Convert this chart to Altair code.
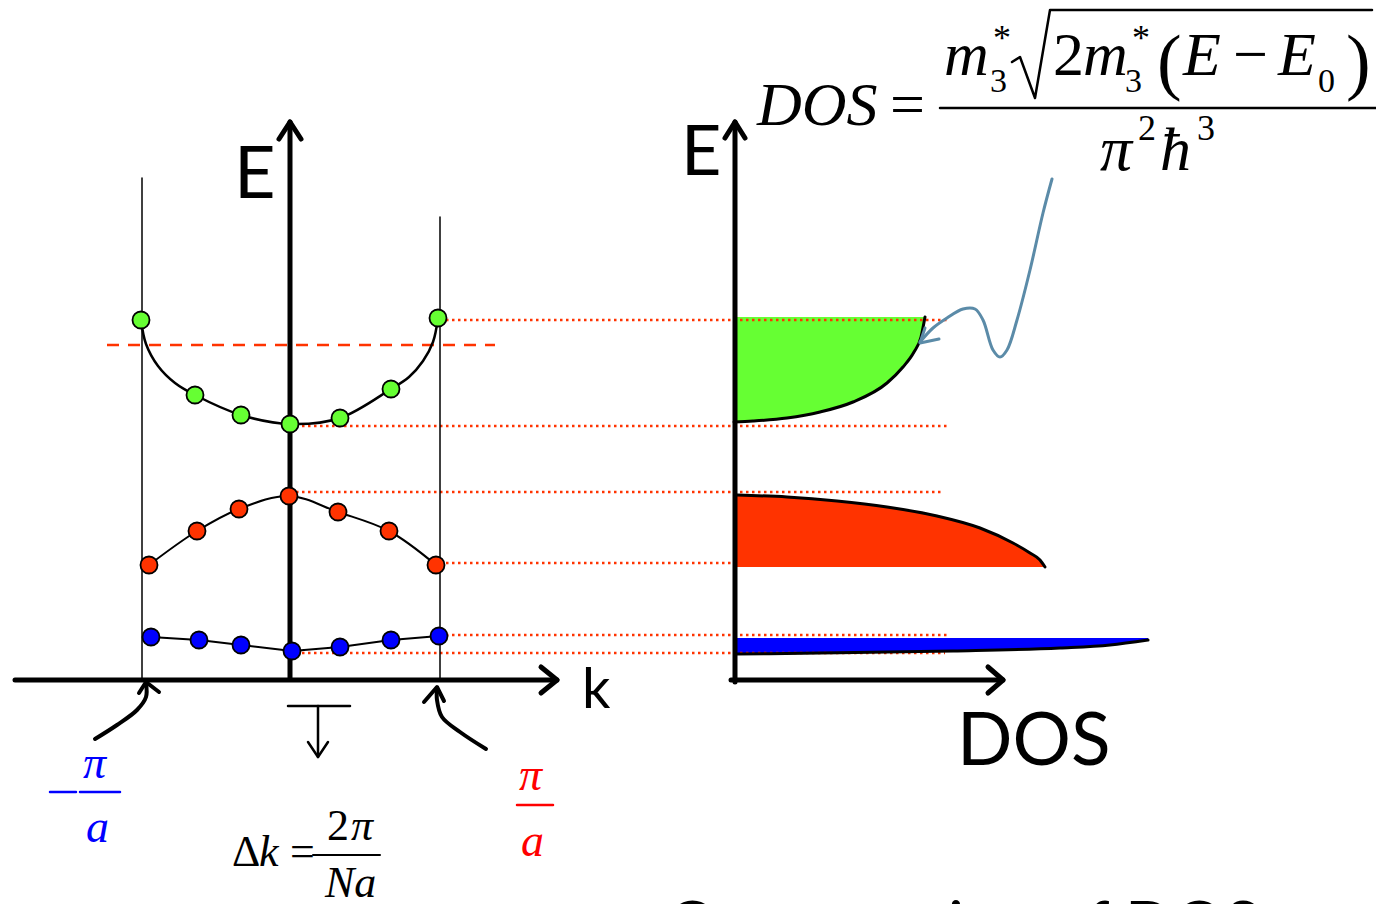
import altair as alt
import pandas as pd

W, H = 1376, 904

# ---- band-structure dots (k position, energy position)
K_X_GREEN = [141, 195, 241, 290, 340, 391, 438]
E_Y_GREEN = [320, 395, 415, 424, 418, 389, 318]
K_X_RED = [149, 197, 239, 289, 338, 389, 436]
E_Y_RED = [565, 531, 509, 496, 512, 531, 565]
K_X_BLUE = [151, 199, 241, 292, 340, 391, 439]
E_Y_BLUE = [637, 640, 645, 651, 647, 640, 636]
DOT_COLORS = {"green": "#66ff33", "red": "#ff3300", "blue": "#0000ff"}

# green band curve (passes through the dots, with extra points read near the zone edges)
GREEN_CURVE_X = [141, 146, 158, 175, 195, 241, 290, 340, 391, 409, 423, 433, 438]
GREEN_CURVE_Y = [320, 344, 366, 383, 395, 415, 424, 418, 389, 377, 361, 342, 318]

# ---- DOS shapes
GREEN_DOS_X = [734, 753, 787, 820, 853, 887, 903, 914, 921, 925]
GREEN_DOS_Y = [422, 421, 418, 412, 402, 383, 367, 352, 337, 317]
GREEN_TOP = 317
RED_DOS_X = [737, 787, 837, 887, 937, 980, 1013, 1030, 1040, 1045]
RED_DOS_Y = [495, 497, 501, 507, 516, 528, 543, 553, 560, 567]
RED_BOTTOM = 567
BLUE_DOS_X = [737, 820, 953, 1060, 1110, 1148]
BLUE_DOS_Y = [654, 653, 651, 648, 645, 640]
BLUE_TOP = 638

# ---- red guide lines (x start, x end, level)
DOTTED_X1 = [440, 290, 290, 440, 440, 290]
DOTTED_X2 = [947, 950, 943, 735, 948, 945]
DOTTED_Y = [320, 426, 492, 563, 635, 653]
DASHED_X1, DASHED_X2, DASHED_Y = 107, 495, 345

STEEL = "#5b8ba8"

# ---- straight paths: (id, color, width, points)
LINEAR_PATHS = [
    ("axisK", "black", 5, [(15, 680), (557, 680)]),
    ("headK", "black", 5, [(541, 667), (557, 680), (541, 693)]),
    ("axisE1", "black", 5, [(290, 678), (290, 122)]),
    ("headE1", "black", 5, [(279, 139), (290, 122), (301, 139)]),
    ("axisE2", "black", 5, [(735, 682), (735, 122)]),
    ("headE2", "black", 5, [(725, 138), (735, 122), (745, 138)]),
    ("axisD", "black", 5, [(731, 680), (1003, 680)]),
    ("headD", "black", 5, [(988, 667), (1003, 680), (988, 693)]),
    ("zoneL", "black", 1.5, [(142, 178), (142, 678)]),
    ("zoneR", "black", 1.5, [(440, 217), (440, 678)]),
    ("bandBlue", "black", 2, list(zip(K_X_BLUE, E_Y_BLUE))),
    ("tTop", "black", 2.5, [(288, 706), (350, 706)]),
    ("tStem", "black", 2.5, [(318, 706), (318, 757)]),
    ("tHead", "black", 2.5, [(308, 742), (318, 757), (328, 742)]),
    ("headArrL", "black", 4, [(139, 693), (146, 682), (159, 692)]),
    ("headArrR", "black", 4, [(424, 702), (437, 687), (444, 701)]),
    ("headSwirl", STEEL, 3, [(939, 339), (920, 343), (925, 328)]),
    ("radical", "black", 2.5, [(1012, 62), (1020, 57), (1035, 98), (1050, 10), (1372, 10)]),
    ("fracMain", "black", 2.5, [(940, 108), (1376, 108)]),
    ("minusBlue", "#0000ff", 2.5, [(50, 792), (76, 792)]),
    ("barBlue", "#0000ff", 2.5, [(80, 792), (120, 792)]),
    ("barRed", "#ff0000", 2.5, [(517, 805), (553, 805)]),
    ("barDk", "black", 2, [(313, 855), (380, 855)]),
]

CURVED_PATHS = [
    ("bandGreen", "black", 2.5, list(zip(GREEN_CURVE_X, GREEN_CURVE_Y))),
    ("bandRed", "black", 2, list(zip(K_X_RED, E_Y_RED))),
    ("arrL", "black", 4, [(95, 739), (117, 725), (137, 710), (146, 697), (146, 683)]),
    ("arrR", "black", 4, [(486, 749), (460, 732), (442, 717), (437, 700), (437, 688)]),
    ("swirl", STEEL, 3, [(1052, 179), (1043, 213), (1030, 270), (1017, 320), (1007, 350),
                         (1000, 357), (993, 350), (983, 320), (975, 309), (963, 309),
                         (947, 318), (933, 328), (920, 342)]),
]

OUTLINE_PATHS = [
    ("outG", "black", 3, list(zip(GREEN_DOS_X, GREEN_DOS_Y))),
    ("outR", "black", 3, list(zip(RED_DOS_X, RED_DOS_Y))),
    ("outB", "black", 3, list(zip(BLUE_DOS_X, BLUE_DOS_Y))),
]

# ---- texts: (group, text, x, baseline y, size, color)
TEXTS = [
    ("sans", "E", 234, 198, 72, "black"),
    ("sans", "k", 582, 708, 56, "black"),
    ("sans", "E", 681, 175, 70, "black"),
    ("sans", "DOS", 957, 765, 73, "black"),
    ("sans", "Computation of DOS", 667, 947, 64, "black"),
    ("ital", "DOS", 757, 125, 62, "black"),
    ("ital", "m", 944, 75, 62, "black"),
    ("ital", "m", 1083, 75, 62, "black"),
    ("ital", "E", 1183, 75, 62, "black"),
    ("ital", "E", 1278, 75, 62, "black"),
    ("ital", "\u03c0", 1100, 170, 64, "black"),
    ("ital", "\u0127", 1160, 170, 62, "black"),
    ("ital", "\u03c0", 83, 778, 46, "#0000ff"),
    ("ital", "a", 86, 842, 46, "#0000ff"),
    ("ital", "\u03c0", 519, 790, 46, "#ff0000"),
    ("ital", "a", 521, 856, 46, "#ff0000"),
    ("ital", "k", 259, 866, 44, "black"),
    ("ital", "\u03c0", 351, 840, 44, "black"),
    ("ital", "Na", 325, 897, 44, "black"),
    ("up", "=", 890, 125, 62, "black"),
    ("up", "3", 990, 92, 34, "black"),
    ("up", "*", 993, 50, 36, "black"),
    ("up", "2", 1053, 75, 62, "black"),
    ("up", "3", 1125, 92, 34, "black"),
    ("up", "*", 1132, 50, 36, "black"),
    ("up", "(", 1157, 86, 74, "black"),
    ("up", "\u2212", 1233, 75, 62, "black"),
    ("up", "0", 1318, 92, 34, "black"),
    ("up", ")", 1346, 86, 74, "black"),
    ("up", "2", 1138, 140, 36, "black"),
    ("up", "3", 1197, 140, 36, "black"),
    ("up", "\u0394", 232, 866, 44, "black"),
    ("up", "=", 290, 866, 44, "black"),
    ("up", "2", 327, 840, 44, "black"),
]


def paths_df(paths):
    rows = []
    for pid, color, width, pts in paths:
        for i, (x, y) in enumerate(pts):
            rows.append({"pid": pid, "color": color, "w": width, "i": i, "x": x, "y": y})
    return pd.DataFrame(rows)


xs = alt.Scale(domain=[0, W], nice=False, zero=False)
ys = alt.Scale(domain=[0, H], nice=False, zero=False, reverse=True)
X = lambda f="x": alt.X(f"{f}:Q", scale=xs, axis=None)
Y = lambda f="y": alt.Y(f"{f}:Q", scale=ys, axis=None)

# DOS areas
green_area = alt.Chart(pd.DataFrame({"x": GREEN_DOS_X, "y": GREEN_TOP, "y2": GREEN_DOS_Y})).mark_area(
    interpolate="monotone", color="#66ff33", opacity=1).encode(x=X(), y=Y(), y2="y2:Q")
red_area = alt.Chart(pd.DataFrame({"x": RED_DOS_X, "y": RED_DOS_Y, "y2": RED_BOTTOM})).mark_area(
    interpolate="monotone", color="#ff3300", opacity=1).encode(x=X(), y=Y(), y2="y2:Q")
blue_area = alt.Chart(pd.DataFrame({"x": BLUE_DOS_X, "y": BLUE_TOP, "y2": BLUE_DOS_Y})).mark_area(
    interpolate="monotone", color="#0000ff", opacity=1).encode(x=X(), y=Y(), y2="y2:Q")

dotted = alt.Chart(pd.DataFrame({"x": DOTTED_X1, "x2": DOTTED_X2, "y": DOTTED_Y})).mark_rule(
    color="#ff3300", strokeWidth=2.5, strokeDash=[2.5, 3.5]).encode(x=X(), x2="x2:Q", y=Y())
dashed = alt.Chart(pd.DataFrame({"x": [DASHED_X1], "x2": [DASHED_X2], "y": [DASHED_Y]})).mark_rule(
    color="#ff3300", strokeWidth=2.5, strokeDash=[12, 9]).encode(x=X(), x2="x2:Q", y=Y())


def line_layer(paths, interp):
    return alt.Chart(paths_df(paths)).mark_line(
        interpolate=interp, strokeCap="round", strokeJoin="round").encode(
        x=X(), y=Y(), detail="pid:N", order="i:Q",
        color=alt.Color("color:N", scale=None),
        strokeWidth=alt.StrokeWidth("w:Q", scale=None))


lin = line_layer(LINEAR_PATHS, "linear")
cur = line_layer(CURVED_PATHS, "catmull-rom")
outl = line_layer(OUTLINE_PATHS, "monotone")

dots_rows = []
for name, xs_, ys_ in [("green", K_X_GREEN, E_Y_GREEN), ("red", K_X_RED, E_Y_RED),
                       ("blue", K_X_BLUE, E_Y_BLUE)]:
    for x, y in zip(xs_, ys_):
        dots_rows.append({"x": x, "y": y, "c": DOT_COLORS[name]})
dots = alt.Chart(pd.DataFrame(dots_rows)).mark_circle(
    size=290, opacity=1, stroke="black", strokeWidth=1.8).encode(
    x=X(), y=Y(), color=alt.Color("c:N", scale=None))

tdf = pd.DataFrame(TEXTS, columns=["g", "t", "x", "y", "size", "color"])


def text_layer(group, font, style):
    kw = dict(align="left", baseline="alphabetic", font=font)
    if style:
        kw["fontStyle"] = style
    return alt.Chart(tdf).transform_filter(alt.datum.g == group).mark_text(**kw).encode(
        x=X(), y=Y(), text="t:N",
        size=alt.Size("size:Q", scale=None),
        color=alt.Color("color:N", scale=None))


t_sans = text_layer("sans", "Lato", None)
t_ital = text_layer("ital", "Liberation Serif", "italic")
t_up = text_layer("up", "Liberation Serif", None)

chart = alt.layer(
    green_area, red_area, blue_area, dotted, dashed, outl, lin, cur, dots, t_sans, t_ital, t_up
).properties(width=W, height=H, padding=0, autosize="none").configure_view(stroke=None)

chart.save("out.html", embed_options={"renderer": "svg", "actions": False})
